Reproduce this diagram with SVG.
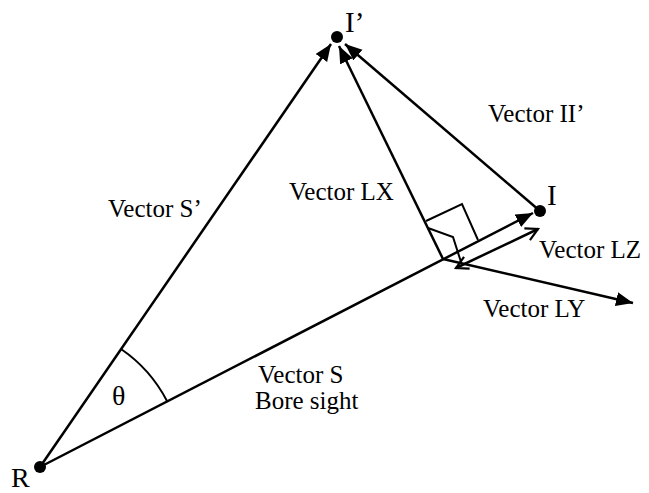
<svg xmlns="http://www.w3.org/2000/svg" width="649" height="493" viewBox="0 0 649 493">
<defs>
<marker id="ah" markerUnits="userSpaceOnUse" markerWidth="18" markerHeight="15" refX="17" refY="7" orient="auto">
<path d="M0,0 L17,7 L0,14 z" fill="#000"/>
</marker>
<marker id="oh" markerUnits="userSpaceOnUse" markerWidth="16" markerHeight="16" refX="13" refY="8" orient="auto-start-reverse">
<path d="M1,1.5 L13,8 L1,14.5" fill="none" stroke="#000" stroke-width="2.2"/>
</marker>
</defs>
<style>
.ln{stroke:#000;stroke-width:2.5;fill:none}
.thin{stroke:#000;stroke-width:2;fill:none}
.lb{font-family:"Liberation Serif","Times New Roman",serif;font-size:25px;fill:#000}
.pt{font-family:"Liberation Serif","Times New Roman",serif;font-size:29px;fill:#000}
</style>
<rect width="649" height="493" fill="#fff"/>
<g id="connectors">
<line class="ln" x1="40" y1="467" x2="331" y2="44" marker-end="url(#ah)"/>
<line class="ln" x1="40" y1="467" x2="533" y2="213" marker-end="url(#ah)"/>
<line class="ln" x1="443" y1="259" x2="339" y2="46" marker-end="url(#ah)"/>
<line class="ln" x1="540" y1="211" x2="345" y2="44" marker-end="url(#ah)"/>
<line class="ln" x1="443" y1="259" x2="633" y2="303" marker-end="url(#ah)"/>
<line class="ln" x1="456" y1="268" x2="538" y2="229" marker-start="url(#oh)" marker-end="url(#oh)"/>
<polyline class="thin" points="426,221 462,204 478,240"/>
<polyline class="thin" points="428,228 453,237 461,262"/>
<path class="thin" d="M121,349 A143,143 0 0 1 167,401"/>
</g>
<g id="node-R">
<circle cx="40" cy="467" r="6" fill="#000"/>
<text class="pt" x="11" y="487" style="font-size:28px">R</text>
</g>
<g id="node-Iprime">
<circle cx="337" cy="37" r="6" fill="#000"/>
<text class="pt" x="345" y="32">I’</text>
</g>
<g id="node-I">
<circle cx="540" cy="211" r="6" fill="#000"/>
<text class="pt" x="547" y="205">I</text>
</g>
<g id="labels">
<text class="lb" x="108" y="217">Vector S’</text>
<text class="lb" x="289" y="200">Vector LX</text>
<text class="lb" x="488" y="122">Vector II’</text>
<text class="lb" x="539" y="258">Vector LZ</text>
<text class="lb" x="483" y="317">Vector LY</text>
<text class="lb" x="258" y="383">Vector S</text>
<text class="lb" x="255" y="409">Bore sight</text>
<text x="112" y="405" style="font-family:'Liberation Serif','Times New Roman',serif;font-size:28px">θ</text>
</g>
</svg>
